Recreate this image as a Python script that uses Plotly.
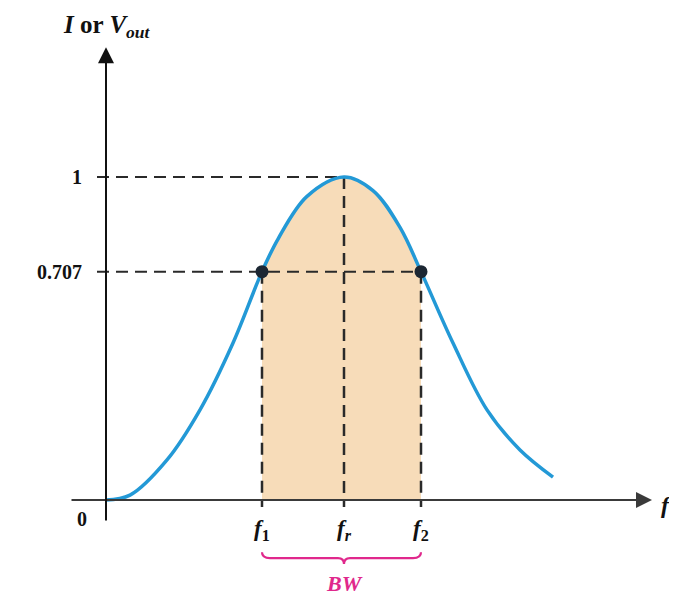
import plotly.graph_objects as go

# ---- data (x in arbitrary frequency units, y normalised response) ----
curve_x = [0.00, 0.24, 0.61, 0.94, 1.27, 1.56, 1.72, 2.01, 2.38, 2.67, 2.94, 3.15, 3.47, 3.81, 4.14, 4.47]
curve_y = [0.000, 0.015, 0.124, 0.279, 0.486, 0.707, 0.808, 0.940, 1.000, 0.958, 0.844, 0.707, 0.486, 0.279, 0.155, 0.071]
f1, fr, f2 = 1.56, 2.38, 3.15
half_power = 0.707
peak = 1.0
y_tick_labels = ["1", "0.707", "0"]

BLUE = "#2399d6"
PEACH = "#f7dcb9"
DARK = "#2a2a2a"
MAGENTA = "#e0288c"
SERIF = "Liberation Serif"

fig = go.Figure()

# shaded bandwidth region
band_x = [x for x in curve_x if f1 <= x <= f2]
band_y = [y for x, y in zip(curve_x, curve_y) if f1 <= x <= f2]
fig.add_trace(go.Scatter(x=band_x, y=band_y, mode="lines", fill="tozeroy",
                         fillcolor=PEACH, line=dict(color="rgba(0,0,0,0)", width=0, shape="spline"),
                         hoverinfo="skip", showlegend=False))

dash = "12px,7px"
# horizontal dashed guides
fig.add_trace(go.Scatter(x=[-0.09, fr], y=[peak, peak], mode="lines",
                         line=dict(color=DARK, width=2, dash=dash), showlegend=False))
fig.add_trace(go.Scatter(x=[-0.09, f2], y=[half_power, half_power], mode="lines",
                         line=dict(color=DARK, width=2, dash=dash), showlegend=False))
# vertical dashed guides
for xv, yv in [(f1, half_power), (fr, peak), (f2, half_power)]:
    fig.add_trace(go.Scatter(x=[xv, xv], y=[yv, -0.022], mode="lines",
                             line=dict(color=DARK, width=2.5, dash=dash), showlegend=False))

# response curve
fig.add_trace(go.Scatter(x=curve_x, y=curve_y, mode="lines",
                         line=dict(color=BLUE, width=3.5, shape="spline", smoothing=1.0),
                         showlegend=False))

# half-power points
fig.add_trace(go.Scatter(x=[f1, f2], y=[half_power, half_power], mode="markers",
                         marker=dict(color="#1c2733", size=13), showlegend=False))

# axes with arrows
fig.add_annotation(x=5.46, y=0, ax=-0.36, ay=0, xref="x", yref="y", axref="x", ayref="y",
                   showarrow=True, arrowhead=2, arrowsize=1.6, arrowwidth=2, arrowcolor="#3a3a3a", text="")
fig.add_annotation(x=0, y=1.402, ax=0, ay=-0.068, xref="x", yref="y", axref="x", ayref="y",
                   showarrow=True, arrowhead=2, arrowsize=1.6, arrowwidth=2, arrowcolor="#111111", text="")

font = dict(family=SERIF, size=20, color="#111111")
# y labels
fig.add_annotation(x=-0.225, y=peak, text="<b>" + y_tick_labels[0] + "</b>", showarrow=False,
                   xanchor="right", yanchor="middle", font=font)
fig.add_annotation(x=-0.225, y=half_power, text="<b>" + y_tick_labels[1] + "</b>", showarrow=False,
                   xanchor="right", yanchor="middle", font=font)
fig.add_annotation(x=-0.24, y=-0.06, text="<b>" + y_tick_labels[2] + "</b>", showarrow=False,
                   xanchor="center", yanchor="middle", font=font)

# x labels
for xv, sub in [(f1, "1"), (fr, "<i>r</i>"), (f2, "2")]:
    fig.add_annotation(x=xv, y=-0.093, text="<b><i>f</i><sub>%s</sub></b>" % sub, showarrow=False,
                       xanchor="center", yanchor="middle", font=dict(family=SERIF, size=23, color="#111111"))
fig.add_annotation(x=5.6, y=-0.015, text="<b><i>f</i></b>", showarrow=False,
                   xanchor="center", yanchor="middle", font=dict(family=SERIF, size=24, color="#111111"))
fig.add_annotation(x=0.01, y=1.465, text="<b><i>I</i> or <i>V</i><sub><i>out</i></sub></b>", showarrow=False,
                   xanchor="center", yanchor="middle", font=dict(family=SERIF, size=25, color="#111111"))

# bandwidth brace
yb = -0.18
h = 0.018
brace = (f"M {f1},{yb + h} Q {f1},{yb} {f1 + 0.08},{yb} "
         f"L {fr - 0.06},{yb} Q {fr},{yb} {fr},{yb - h} "
         f"Q {fr},{yb} {fr + 0.06},{yb} L {f2 - 0.08},{yb} Q {f2},{yb} {f2},{yb + h}")
fig.add_shape(type="path", path=brace, xref="x", yref="y", line=dict(color=MAGENTA, width=2.2))
fig.add_annotation(x=fr, y=-0.258, text="<b><i>BW</i></b>", showarrow=False,
                   xanchor="center", yanchor="middle", font=dict(family=SERIF, size=22, color=MAGENTA))

# the page body adds an 8px offset, so the figure is 669x592 and ranges are set to match
fig.update_layout(width=669, height=592, autosize=False,
                  margin=dict(l=0, r=0, t=0, b=0),
                  paper_bgcolor="white", plot_bgcolor="white",
                  xaxis=dict(range=[-0.98, 5.71], visible=False, showgrid=False, zeroline=False),
                  yaxis=dict(range=[-0.3096, 1.5232], visible=False, showgrid=False, zeroline=False),
                  showlegend=False)

fig.write_html("out.html")
